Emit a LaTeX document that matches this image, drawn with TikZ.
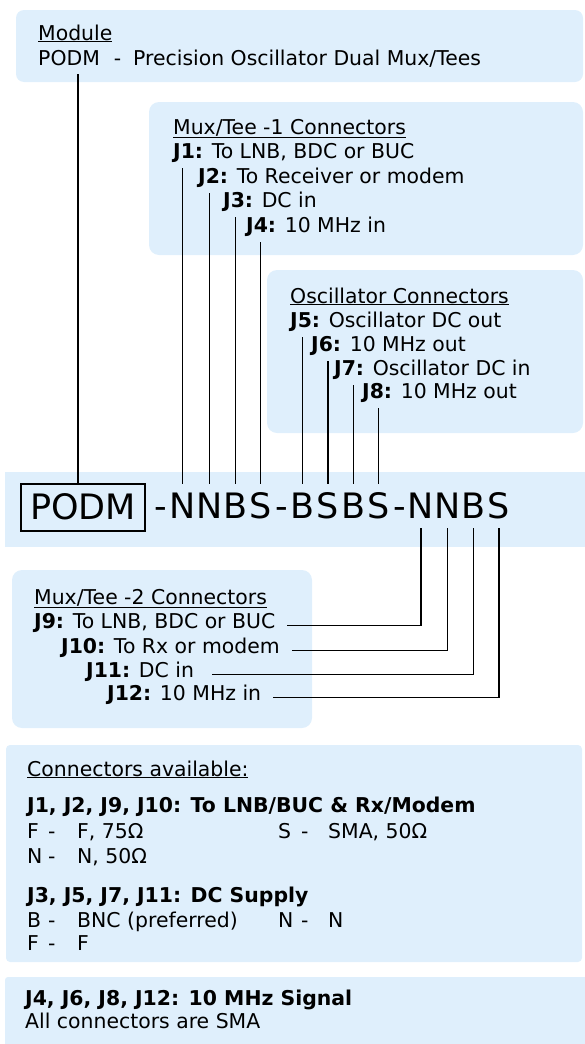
\documentclass[tikz,border=0pt]{standalone}
\usepackage{fontspec}
\setmainfont{DejaVu Sans}
\usetikzlibrary{positioning}
\definecolor{panelblue}{HTML}{DFEFFC}
\newcommand\connline[3][21pt]{\makebox[50pt][l]{\makebox[#1][l]{#2}-}#3}
\tikzset{
  panel/.style={fill=panelblue, rounded corners=10pt},
  txt/.style={anchor=base west, inner sep=0pt, font=\fontsize{20.4}{24}\selectfont},
  vlab/.style={txt, text depth=10pt},
  letter/.style={anchor=base west, inner sep=0pt, text height=34pt, text depth=10pt,
    align=center, font=\fontsize{35}{40}\selectfont},
  wire/.style={line width=1.3pt},
}

\begin{document}
\begin{tikzpicture}[x=1pt,y=-1pt]
    \useasboundingbox (0,0) rectangle (584,1044);
    % panels
    \fill[panel, rounded corners=8pt] (16,10) rectangle (583,82);
    \fill[panel] (149,102) rectangle (583,255);
    \fill[panel] (267,270) rectangle (583,433);
    \fill[panelblue] (5,472) rectangle (592,547);
    \fill[panel] (12,570) rectangle (312,728);
    \fill[panel, rounded corners=4pt] (6,745) rectangle (582,962);
    \fill[panel, rounded corners=3pt] (5,977) rectangle (592,1052);

    % module
    \node[txt] (modhead) at (38,40) {\underline{Module}};
    \node[txt, text depth=9pt] (modname) at (38,65) {PODM\hspace{14pt}-\hspace{12pt}Precision Oscillator Dual Mux/Tees};

    % mux/tee 1
    \node[txt] (mux1head) at (173,134) {\underline{Mux/Tee -1 Connectors}};
    \node[vlab] (j1) at (173,158) {\textbf{J1:} To LNB, BDC or BUC};
    \node[vlab] (j2) at (198,183) {\textbf{J2:} To Receiver or modem};
    \node[vlab] (j3) at (223,207) {\textbf{J3:} DC in};
    \node[vlab] (j4) at (246,232) {\textbf{J4:} 10 MHz in};

    % oscillator
    \node[txt] (oschead) at (290,303) {\underline{Oscillator Connectors}};
    \node[vlab] (j5) at (290,327) {\textbf{J5:} Oscillator DC out};
    \node[vlab] (j6) at (311,351) {\textbf{J6:} 10 MHz out};
    \node[vlab] (j7) at (334,375) {\textbf{J7:} Oscillator DC in};
    \node[vlab] (j8) at (362,398) {\textbf{J8:} 10 MHz out};

    % part number
    \node[draw, line width=1.4pt, inner sep=0pt, minimum width=124pt, minimum height=47pt,
      text height=24pt, text depth=0pt, font=\fontsize{35}{40}\selectfont] (podm) at (83,507.5) {PODM};
    \foreach \ch/\w [count=\i] in {-/16,N/26,N/26,B/25,S/25,-/16,B/25,S/25,B/25,S/25,-/16,N/26,N/26,B/25,S/25}
    {
        \pgfmathtruncatemacro{\ii}{\i-1}
        \ifnum\i=1
            \node[letter, minimum width=\w pt] (c\i) at (153,518) {\ch};
        \else
            \node[letter, minimum width=\w pt] (c\i) at (c\ii.base east) {\ch};
        \fi
    }

    % mux/tee 2
    \node[txt] (mux2head) at (34,604) {\underline{Mux/Tee -2 Connectors}};
    \node[txt] (j9) at (34,628) {\textbf{J9:} To LNB, BDC or BUC};
    \node[txt] (j10) at (61,653) {\textbf{J10:} To Rx or modem};
    \node[txt] (j11) at (86,677) {\textbf{J11:} DC in};
    \node[txt] (j12) at (107,700) {\textbf{J12:} 10 MHz in};

    % connectors available
    \node[txt] (availhead) at (27,776) {\underline{Connectors available:}};
    \node[txt] (rfhead) at (27,812) {\textbf{J1, J2, J9, J10: To LNB/BUC \& Rx/Modem}};
    \node[txt] (rfF) at (27,838) {\connline{F}{F, 75Ω}};
    \node[txt] (rfS) at (278,838) {\connline[23pt]{S}{SMA, 50Ω}};
    \node[txt] (rfN) at (27,863) {\connline{N}{N, 50Ω}};
    \node[txt] (dchead) at (27,902) {\textbf{J3, J5, J7, J11: DC Supply}};
    \node[txt] (dcB) at (27,927) {\connline{B}{BNC (preferred)}};
    \node[txt] (dcN) at (278,927) {\connline[23pt]{N}{N}};
    \node[txt] (dcF) at (27,950) {\connline{F}{F}};
    \node[txt] (sighead) at (25,1005) {\textbf{J4, J6, J8, J12: 10 MHz Signal}};
    \node[txt] (sigtext) at (25,1028) {All connectors are SMA};

    % connectors
    \draw[wire] ([xshift=-5pt]podm.north) -- ([xshift=-5pt]podm.north |- modname.south);
    \foreach \lab/\c in {j1/2, j2/3, j3/4, j4/5, j5/7, j6/8, j7/9, j8/10}
        \draw[wire] (\lab.south -| c\c.north) -- (c\c.north);
    \foreach \lab/\c/\gap in {j9/12/12, j10/13/12, j11/14/18, j12/15/12}
        \draw[wire] ([xshift=\gap pt]\lab.mid east) -| (c\c.south);
\end{tikzpicture}
\end{document}
